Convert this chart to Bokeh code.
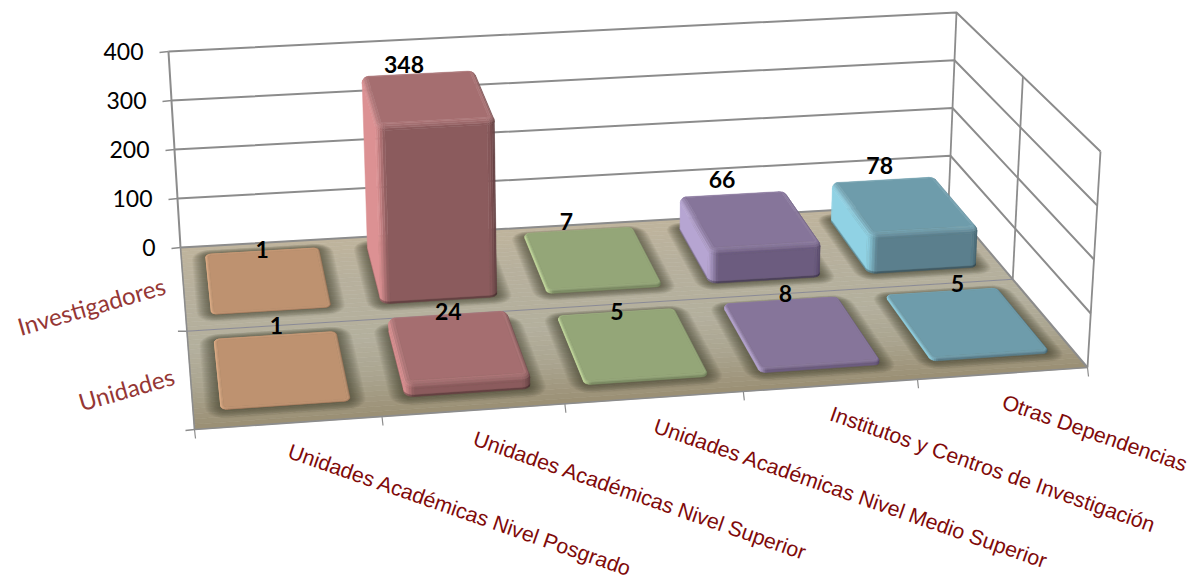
import numpy as np
from bokeh.plotting import figure
from bokeh.models import ColumnDataSource
from bokeh.core.properties import value
from bokeh.embed import file_html
from bokeh.resources import INLINE

# ---- data ----
categories = ["Unidades Académicas Nivel Posgrado", "Unidades Académicas Nivel Superior",
              "Unidades Académicas Nivel Medio Superior", "Institutos y Centros de Investigación",
              "Otras Dependencias"]
series_names = ["Investigadores", "Unidades"]
investigadores = [1, 348, 7, 66, 78]
unidades = [1, 24, 5, 8, 5]
value_ticks = [0, 100, 200, 300, 400]

# ---- style ----
TOP = ["#BE9270", "#A56E70", "#94A678", "#86759A", "#6E9CAB"]
FRONT = ["#A57D5F", "#8B5B5D", "#7D8D65", "#6C5C7F", "#5B7F8D"]
LEFT = ["#E0AE87", "#DC9193", "#C4DB9E", "#B6A5D2", "#90D2E4"]
RIGHT = ["#8A6A50", "#5A3B3C", "#6A7856", "#4F4264", "#3C5A66"]
GRID = "#8C8C8C"
SERIES_COLOR = "#953735"
CAT_COLOR = "#7F0A0A"

# projection frame of the 3-D box (screen pixels of the page)
FLOOR = [(180, 247), (948, 203), (1087, 367), (194, 429)]   # back-left, back-right, front-right, front-left
CEIL = [(168, 51), (956, 12), (1100, 151), (180, 207)]
LO, HI = 0.15, 0.85
VLO, VHI = 0.11, 0.83
# nudges of data labels from the back edge of each bar top (dx, dy)
NUDGE = {(0, 0): (0, 3), (0, 1): (-14, -3), (0, 2): (-12, -4), (0, 3): (-10, -9), (0, 4): (-3, -9),
         (1, 0): (1, -6), (1, 1): (1, 3), (1, 2): (1, 4), (1, 3): (5, -2), (1, 4): (16, -3)}


def homography(q):
    src = [(0, 0), (1, 0), (1, 1), (0, 1)]
    A, b = [], []
    for (x, y), (X, Y) in zip(src, q):
        A.append([x, y, 1, 0, 0, 0, -x * X, -y * X]); b.append(X)
        A.append([0, 0, 0, x, y, 1, -x * Y, -y * Y]); b.append(Y)
    return np.append(np.linalg.solve(np.array(A, float), np.array(b, float)), 1).reshape(3, 3)


HF, HC = homography(FLOOR), homography(CEIL)


def apply(H, u, v):
    w = H @ np.array([u, v, 1.0])
    return w[:2] / w[2]


def project(u, v, val=0.0):
    """u in categories 0..5, v in series 0..2 (back to front), val in axis units."""
    a = apply(HF, u / 5, v / 2)
    b = apply(HC, u / 5, v / 2)
    return a + (val / 400) * (b - a)


def rgb(h):
    return np.array([int(h[i:i + 2], 16) for i in (1, 3, 5)], float)


def hexc(c):
    c = np.clip(c, 0, 255).astype(int)
    return "#%02x%02x%02x" % tuple(c)


def outline(u0, u1, v0, v1, r, inset=0.0, n_arc=5):
    """Rounded-rectangle outline: list of (u, v, nu, nv)."""
    pts = []
    corners = [(u0 + r, v0 + r, np.pi, 1.5 * np.pi), (u1 - r, v0 + r, 1.5 * np.pi, 2 * np.pi),
               (u1 - r, v1 - r, 0, 0.5 * np.pi), (u0 + r, v1 - r, 0.5 * np.pi, np.pi)]
    for cu, cv, a0, a1 in corners:
        for a in np.linspace(a0, a1, n_arc + 1):
            nu, nv = np.cos(a), np.sin(a)
            pts.append((cu + (r - inset) * nu, cv + (r - inset) * nv, nu, nv))
    return pts


xs, ys, cols = [], [], []


def add(poly, col):
    xs.append([float(p[0]) for p in poly])
    ys.append([float(p[1]) for p in poly])
    cols.append(col)


# floor with its vertical shading
stops_v = [0.0, 0.5, 1.2, 1.6, 2.0]
stops_c = [rgb("#C0B59E"), rgb("#B8B19D"), rgb("#B4B09E"), rgb("#ABA590"), rgb("#9A8F74")]
edges = np.linspace(0, 2, 41)
for a, b in zip(edges[:-1], edges[1:]):
    m = (a + b) / 2
    c = np.array([np.interp(m, stops_v, [s[k] for s in stops_c]) for k in range(3)])
    add([project(0, a), project(5, a), project(5, b), project(0, b)], hexc(c))

p = figure(width=1194, height=585, x_range=(0, 1194), y_range=(585, 0),
           output_backend="svg", toolbar_location=None, min_border=0,
           outline_line_color=None, background_fill_color="white")
p.axis.visible = False
p.grid.visible = False

floor_src = ColumnDataSource(dict(xs=xs, ys=ys, c=cols))
p.patches("xs", "ys", source=floor_src, fill_color="c", line_color="c", line_width=0.6)


def line(pts, width=1.6, color=GRID):
    p.line([float(q[0]) for q in pts], [float(q[1]) for q in pts], line_color=color, line_width=width)


# walls' grid
for t in value_ticks:
    line([project(0, 0, t), project(5, 0, t), project(5, 2, t)], 2.0)
    line([project(0, 0, t) - np.array([9, -1]), project(0, 0, t)], 1.6)
line([project(0, 0, 0), project(0, 0, 400)], 2.0)
line([project(5, 0, 0), project(5, 0, 400)], 1.8)
line([project(5, 1, 0), project(5, 1, 400)], 1.8)
line([project(5, 2, 0), project(5, 2, 400)], 1.8)
line([project(0, 0), project(0, 2)], 1.6)
line([project(0, 2), project(5, 2)], 1.6)
line([project(0, 1), project(5, 1)], 1.0, "#8A8A96")
line([project(0, 1) - np.array([9, 0]), project(0, 1)], 1.4)
line([project(0, 2) - np.array([9, -1]), project(0, 2)], 1.4)
for i in range(6):
    q = project(i, 2)
    line([q, q + np.array([1, 9])], 1.2)

rows = [investigadores, unidades]

# soft contact shadows on the floor
sx, sy = [], []
for row, vals in enumerate(rows):
    for cat in range(5):
        u0, u1 = cat + LO, cat + HI
        v0, v1 = row + VLO, row + VHI
        for e in np.linspace(0.085, 0.0, 15):
            pts = outline(u0 - e, u1 + e, v0 - e * 0.7, v1 + e, 0.03 + e, 0)
            poly = [project(a, b) for a, b, _, _ in pts]
            sx.append([float(q[0]) for q in poly])
            sy.append([float(q[1]) for q in poly])
p.patches(sx, sy, fill_color="#3A3A2C", fill_alpha=0.055, line_color=None)

# bars as shaded rounded boxes, back row first
bx, by, bc = [], [], []


def quad_area(q):
    a = 0.0
    for i in range(len(q)):
        x0, y0 = q[i]
        x1, y1 = q[(i + 1) % len(q)]
        a += x0 * y1 - x1 * y0
    return a / 2


def bar(cat, row, val):
    T, F, L, R = (rgb(c[cat]) for c in (TOP, FRONT, LEFT, RIGHT))
    u0, u1 = cat + LO, cat + HI
    v0, v1 = row + VLO, row + VHI
    big = val >= 15
    r = 0.05 if big else 0.035
    bi = 0.035 if big else 0.016
    bz = min(val * 0.5, 10.0)
    rim = min(val * 0.15, 4.0) if big else 0.0
    thetas = np.linspace(0, np.pi / 2, 5)
    rings = []
    if rim > 0:
        rings.append((0.0, 0.0, 0.0, True))
        rings.append((0.0, rim, 0.0, False))
    else:
        rings.append((0.0, 0.0, 0.0, False))
    rings.append((0.0, val - bz, 0.0, False))
    for th in thetas[1:]:
        rings.append((bi * (1 - np.cos(th)), val - bz * (1 - np.sin(th)), th, False))
    for k in range(len(rings) - 1):
        ins0, z0, th0, dark = rings[k]
        ins1, z1, th1, _ = rings[k + 1]
        o0 = outline(u0, u1, v0, v1, r, ins0)
        o1 = outline(u0, u1, v0, v1, r, ins1)
        th = (th0 + th1) / 2
        for i in range(len(o0)):
            j = (i + 1) % len(o0)
            q = [project(o0[i][0], o0[i][1], z0), project(o0[j][0], o0[j][1], z0),
                 project(o1[j][0], o1[j][1], z1), project(o1[i][0], o1[i][1], z1)]
            if quad_area(q) < 0:   # faces away from the viewer
                continue
            nu = (o0[i][2] + o0[j][2]) / 2
            nv = (o0[i][3] + o0[j][3]) / 2
            nn = np.hypot(nu, nv) or 1.0
            nu, nv = nu / nn, nv / nn
            wu = abs(nu) ** 1.2
            side = wu * (L if nu < 0 else R) + (1 - wu) * (F if nv > 0 else T)
            col = np.cos(th) ** 2 * side + np.sin(th) ** 2 * T
            if dark:
                col = col * 0.72
            if th > 0.2:
                col = col + 8
            bx.append([float(a[0]) for a in q])
            by.append([float(a[1]) for a in q])
            bc.append(hexc(col))
    cap = [project(a, b, val) for a, b, _, _ in outline(u0, u1, v0, v1, r, bi)]
    bx.append([float(a[0]) for a in cap])
    by.append([float(a[1]) for a in cap])
    bc.append(hexc(T))


for row, vals in enumerate(rows):
    for cat, val in enumerate(vals):
        bar(cat, row, val)

bar_src = ColumnDataSource(dict(xs=bx, ys=by, c=bc))
p.patches("xs", "ys", source=bar_src, fill_color="c", line_color="c", line_width=0.5)


def txt(x, y, s, font, size, color, bold=False, angle=0.0, align="center"):
    p.text([float(x)], [float(y)], text=[s], text_font=value(font), text_font_size=f"{size}px",
           text_font_style="bold" if bold else "normal", text_color=color, angle=angle,
           text_align=align, text_baseline="middle")


# data labels
for row, vals in enumerate(rows):
    for cat, val in enumerate(vals):
        q = project(cat + 0.5, row + VLO, val)
        dx, dy = NUDGE[(row, cat)]
        txt(q[0] + dx, q[1] + dy - 4, str(val), "Lato", 23, "#000000", bold=True)

# value axis labels
for t in value_ticks:
    q = project(0, 0, t)
    txt(q[0] - 25, q[1], str(t), "Lato", 23, "#000000", align="right")

# series labels
for row, name in enumerate(series_names):
    q = project(0, row + 0.5)
    txt(q[0] - 19 + 2 * row, q[1] - 3, name, "Lato", 24, SERIES_COLOR, angle=0.28, align="right")

# category labels
for cat, name in enumerate(categories):
    q = project(cat + 0.5, 2)
    txt(q[0], q[1] + 28, name, "Liberation Sans", 21.3, CAT_COLOR, angle=-0.335, align="left")

open("out.html", "w").write(file_html(p, INLINE))
